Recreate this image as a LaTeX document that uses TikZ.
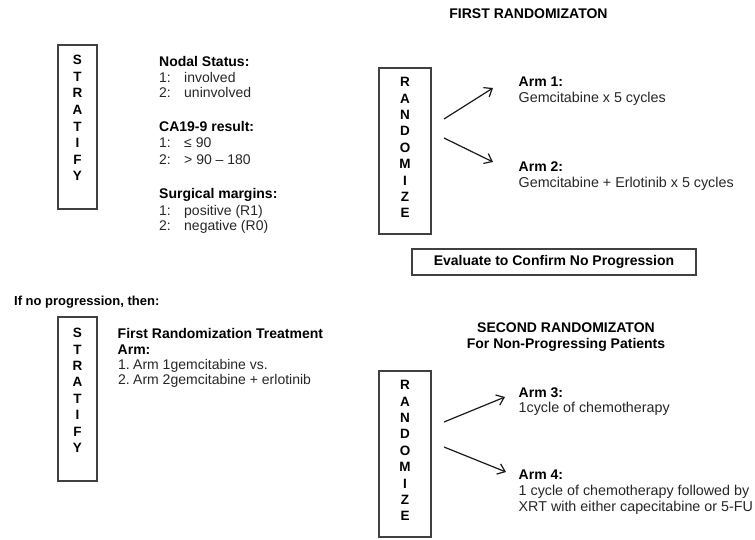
\documentclass[tikz,border=0pt]{standalone}
\usepackage{fontspec}
\setmainfont{Liberation Sans}
\usetikzlibrary{arrows.meta}
\begin{document}
\begin{tikzpicture}[x=1pt,y=-1pt,
  box/.style={draw=black!75,line width=1.1pt,inner sep=0},
  ltr/.style={font=\fontsize{13.5}{13.5}\selectfont\bfseries,inner sep=0},
  hd/.style={font=\fontsize{14}{16}\selectfont\bfseries,anchor=base west,inner sep=0},
  tx/.style={font=\fontsize{14}{16}\selectfont,anchor=base west,inner sep=0,text=black!85},
  txa/.style={tx,font=\fontsize{14.3}{16}\selectfont},
  ttl/.style={font=\fontsize{14}{16}\selectfont\bfseries,anchor=base,inner sep=0},
  arr/.style={line width=1.2pt,black!90,-{Straight Barb[length=7pt,width=11pt,line width=1.2pt]}}]
\useasboundingbox (0,0) rectangle (755,540);

% ---------- top stratify ----------
\node[box,minimum width=39pt,minimum height=164pt] (strat1) at (77.5,127) {};
\foreach \l [count=\i] in {S,T,R,A,T,I,F,Y}
  \node[ltr] (sa\i) at (77.5,{60+(\i-1)*16.6}) {\l};

\node[hd] (ns) at (159,67) {Nodal Status:};
\node[tx] (ns1n) at (159,83) {1:};
\node[tx] (ns1) at (184,83) {involved};
\node[tx] (ns2n) at (159,98) {2:};
\node[tx] (ns2) at (184,98) {uninvolved};

\node[hd] (ca) at (159,132) {CA19-9 result:};
\node[tx] (ca1n) at (159,148) {1:};
\node[tx] (ca1) at (184,148) {≤ 90};
\node[tx] (ca2n) at (159,165) {2:};
\node[tx] (ca2) at (184,165) {> 90 – 180};

\node[hd] (sm) at (159,199) {Surgical margins:};
\node[tx] (sm1n) at (159,215) {1:};
\node[tx] (sm1) at (184,215) {positive (R1)};
\node[tx] (sm2n) at (159,231) {2:};
\node[tx] (sm2) at (184,231) {negative (R0)};

% ---------- first randomization ----------
\node[ttl] (t1) at (528.5,19) {FIRST RANDOMIZATON};
\node[box,minimum width=52pt,minimum height=166pt] (rand1) at (405,151) {};
\foreach \l [count=\i] in {R,A,N,D,O,M,I,Z,E}
  \node[ltr] (ra\i) at (405,{82+(\i-1)*16.4}) {\l};

\coordinate (a1s) at (444,119);
\coordinate (a1e) at (493,88);
\coordinate (a2s) at (444,138);
\coordinate (a2e) at (493,162);
\draw[arr] (a1s) -- (a1e);
\draw[arr] (a2s) -- (a2e);

\node[hd] (arm1) at (518.5,87) {Arm 1:};
\node[txa] (arm1t) at (518.5,103) {Gemcitabine x 5 cycles};
\node[hd] (arm2) at (518.5,172) {Arm 2:};
\node[txa] (arm2t) at (518.5,188) {Gemcitabine + Erlotinib x 5 cycles};

\node[box,minimum width=284pt,minimum height=26pt,font=\fontsize{14}{16}\selectfont\bfseries] (eval) at (554,262) {Evaluate to Confirm No Progression};

% ---------- second part ----------
\node[font=\fontsize{13}{14}\selectfont\bfseries,anchor=base west,inner sep=0] (ifno) at (14,305.5) {If no progression, then:};

\node[box,minimum width=39pt,minimum height=164pt] (strat2) at (77.5,399) {};
\foreach \l [count=\i] in {S,T,R,A,T,I,F,Y}
  \node[ltr] (sb\i) at (77.5,{333+(\i-1)*16.4}) {\l};

\node[hd] (frt) at (117.5,338) {First Randomization Treatment};
\node[hd] (frt2) at (117.5,354) {Arm:};
\node[tx] (f1n) at (118,369) {1.};
\node[tx] (f1) at (133,369) {Arm 1gemcitabine vs.};
\node[tx] (f2n) at (118,384) {2.};
\node[tx] (f2) at (133,384) {Arm 2gemcitabine + erlotinib};

\node[ttl] (t2) at (566,332) {SECOND RANDOMIZATON};
\node[ttl] (t2b) at (566,348) {For Non-Progressing Patients};

\node[box,minimum width=52pt,minimum height=166pt] (rand2) at (405,454) {};
\foreach \l [count=\i] in {R,A,N,D,O,M,I,Z,E}
  \node[ltr] (rb\i) at (405,{385+(\i-1)*16.4}) {\l};

\coordinate (a3s) at (444,422);
\coordinate (a3e) at (505,397);
\coordinate (a4s) at (444,447);
\coordinate (a4e) at (506,472);
\draw[arr] (a3s) -- (a3e);
\draw[arr] (a4s) -- (a4e);

\node[hd] (arm3) at (518.5,397) {Arm 3:};
\node[txa] (arm3t) at (518.5,412) {1cycle of chemotherapy};
\node[hd] (arm4) at (518.5,479) {Arm 4:};
\node[txa] (arm4t) at (518.5,495) {1 cycle of chemotherapy followed by};
\node[txa] (arm4u) at (518.5,511) {XRT with either capecitabine or 5-FU};
\end{tikzpicture}
\end{document}
